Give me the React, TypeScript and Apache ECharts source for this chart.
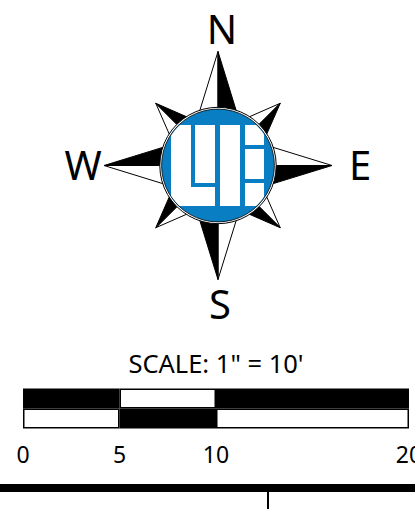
import React, { useEffect, useRef } from "react";
import * as echarts from "echarts";

// ---- Scale bar data ----
const SCALE_TITLE = "SCALE: 1\" = 10'";
const ROWS = ["upper", "lower"];
const SEGMENT_LENGTHS = [5, 5, 10];
const UPPER_PATTERN = ["dark", "light", "dark"];
const LOWER_PATTERN = ["light", "dark", "light"];
const TICK_VALUES = [0, 5, 10, 20];
const SCALE_MAX = 20;

// ---- Compass labels ----
const DIRECTIONS = ["N", "E", "S", "W"];

const BLUE = "#0a7ec3";
const FONT = '"Noto Sans", "Open Sans", sans-serif';

const CX = 218;
const CY = 165.5;
const CARD_R = 114;
const CARD_IN = 38;
const DIAG_R = 88;
const DIAG_IN = 35;

function pt(angle: number, r: number): number[] {
  const a = (angle * Math.PI) / 180;
  return [CX + r * Math.sin(a), CY - r * Math.cos(a)];
}

function starArms(tipAngles: number[], R: number, rin: number): any[] {
  const out: any[] = [];
  tipAngles.forEach((a) => {
    const tip = pt(a, R);
    out.push({
      type: "polygon",
      shape: { points: [tip, pt(a - 45, rin), [CX, CY]] },
      style: { fill: "#ffffff", stroke: "#000000", lineWidth: 1, lineJoin: "round" },
    });
    out.push({
      type: "polygon",
      shape: { points: [tip, pt(a + 45, rin), [CX, CY]] },
      style: { fill: "#000000", stroke: "#000000", lineWidth: 1, lineJoin: "round" },
    });
  });
  return out;
}

// logo blocks: [x0, y0, x1, y1]
const LOGO_BLOCKS = [
  [171, 125, 191, 206],
  [171, 187, 215, 206],
  [195, 125, 215, 183],
  [220, 125, 240, 206],
  [245, 125, 264, 145],
  [245, 149, 264, 179],
  [245, 183, 264, 206],
];

function clipToCircle(b: number[], r: number): number[][] {
  const [x0, y0, x1, y1] = b;
  const left: number[][] = [];
  const right: number[][] = [];
  const step = 0.5;
  for (let y = y0; y <= y1 + 1e-6; y += step) {
    const dy = y - CY;
    if (Math.abs(dy) >= r) continue;
    const h = Math.sqrt(r * r - dy * dy);
    const xl = Math.max(x0, CX - h);
    const xr = Math.min(x1, CX + h);
    if (xl < xr) {
      left.push([xl, y]);
      right.push([xr, y]);
    }
  }
  return left.concat(right.reverse());
}

export default function App() {
  const ref = useRef<HTMLDivElement>(null);
  useEffect(() => {
    if (!ref.current) return;
    const chart = echarts.init(ref.current, null, { renderer: "svg" });

    const colorOf = (k: string) => (k === "dark" ? "#000000" : "#ffffff");

    const series = SEGMENT_LENGTHS.map((len, i) => ({
      type: "bar",
      stack: "scale",
      barCategoryGap: "0%",
      data: [
        { value: len, itemStyle: { color: colorOf(UPPER_PATTERN[i]) } },
        { value: len, itemStyle: { color: colorOf(LOWER_PATTERN[i]) } },
      ],
      itemStyle: { borderColor: "#000000", borderWidth: 1.5 },
      emphasis: { disabled: true },
    }));

    const dirPos: Record<string, number[]> = {
      N: [222, 28],
      E: [360, 164],
      S: [220, 303],
      W: [83, 164],
    };

    const graphic: any[] = [];
    graphic.push(...starArms([45, 135, 225, 315], DIAG_R, DIAG_IN));
    graphic.push(...starArms([0, 90, 180, 270], CARD_R, CARD_IN));
    graphic.push({
      type: "circle",
      shape: { cx: CX, cy: CY, r: 58.2 },
      style: { fill: "#ffffff", stroke: "#000000", lineWidth: 1 },
    });
    graphic.push({
      type: "circle",
      shape: { cx: CX, cy: CY, r: 56.4 },
      style: { fill: BLUE, stroke: "#000000", lineWidth: 0.8 },
    });
    LOGO_BLOCKS.forEach((b) => {
      graphic.push({
        type: "polygon",
        shape: { points: clipToCircle(b, 55.6) },
        style: { fill: "#ffffff" },
      });
    });
    DIRECTIONS.forEach((d) => {
      const p = dirPos[d];
      graphic.push({
        type: "text",
        x: p[0],
        y: p[1],
        style: {
          text: d,
          fontSize: 40,
          fontFamily: FONT,
          fill: "#000000",
          align: "center",
          verticalAlign: "middle",
          textAlign: "center",
          textVerticalAlign: "middle",
        },
      });
    });
    graphic.push({
      type: "text",
      x: 216,
      y: 362.5,
      style: {
        text: SCALE_TITLE,
        fontSize: 25.5,
        fontFamily: FONT,
        fill: "#000000",
        align: "center",
        verticalAlign: "middle",
        textAlign: "center",
        textVerticalAlign: "middle",
      },
    });
    graphic.push({
      type: "rect",
      shape: { x: 0, y: 484, width: 415, height: 8 },
      style: { fill: "#000000" },
    });
    graphic.push({
      type: "rect",
      shape: { x: 267, y: 491, width: 2, height: 18 },
      style: { fill: "#000000" },
    });

    chart.setOption({
      animation: false,
      grid: {
        left: 23,
        right: 6,
        top: 388.5,
        height: 40,
        containLabel: false,
        outerBoundsMode: "none",
      },
      xAxis: {
        type: "value",
        min: 0,
        max: SCALE_MAX,
        axisLine: { show: false },
        axisTick: { show: false },
        splitLine: { show: false },
        axisLabel: {
          customValues: TICK_VALUES,
          fontSize: 23,
          fontFamily: FONT,
          color: "#000000",
          margin: 13.5,
          hideOverlap: false,
        },
      },
      yAxis: {
        type: "category",
        data: ROWS,
        inverse: true,
        show: false,
      },
      series,
      graphic,
    });
    return () => chart.dispose();
  }, []);
  return (
    <div
      ref={ref}
      style={{ position: "fixed", left: 0, top: 0, width: 415, height: 509, background: "#ffffff" }}
    />
  );
}
